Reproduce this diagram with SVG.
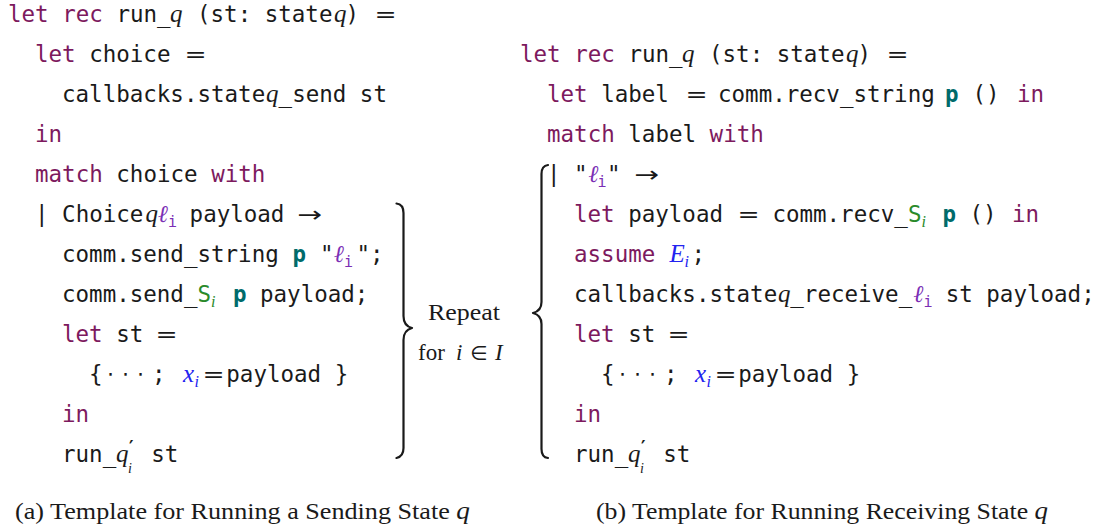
<svg xmlns="http://www.w3.org/2000/svg" width="1099" height="531" viewBox="0 0 1099 531">
<style>
  .m{font-family:"DejaVu Sans Mono",monospace;font-size:22.5px;fill:#1a1a1a}
  .k{fill:#7d1a5e}
  .b{font-weight:bold;fill:#006b6b}
  .mi{font-family:"Liberation Serif","DejaVu Serif",serif;font-style:italic;font-size:25px;fill:#1a1a1a}
  .ell{font-family:"DejaVu Serif",serif;font-style:italic;font-size:24px}
  .sb{font-size:16px}
  .ss{font-family:"DejaVu Sans Mono",monospace;font-size:15px}
  .lab{fill:#7b2fb5}
  .g{fill:#2a8a2a}
  .bl{fill:#2323f0}
  .op{font-family:"DejaVu Sans",sans-serif;font-size:22px;fill:#1a1a1a}
  .pr{font-family:"DejaVu Sans",sans-serif;font-size:17px;font-weight:bold;font-style:normal}
  .rm{font-family:"Liberation Serif",serif;font-size:23px;fill:#1a1a1a}
  .cap{font-family:"Liberation Serif",serif;font-size:24px;fill:#1a1a1a}
  .brace{fill:none;stroke:#1a1a1a;stroke-width:2.2;stroke-linecap:round;stroke-linejoin:round}
</style>

<!-- (a) sending state template -->
<g id="code-send">
  <text class="m" y="22"><tspan x="8" class="k">let rec</tspan><tspan x="116.4">run_</tspan><tspan x="170" class="mi">q</tspan><tspan x="197">(st: state</tspan><tspan x="334" class="mi">q</tspan><tspan x="345.5">)</tspan></text>
  <text class="op" transform="translate(374.4,22) scale(1.2,1)">=</text>

  <text class="m" y="62"><tspan x="35" class="k">let</tspan><tspan x="89.2">choice</tspan></text>
  <text class="op" transform="translate(184.4,62) scale(1.2,1)">=</text>

  <text class="m" y="102"><tspan x="62">callbacks.state</tspan><tspan x="266" class="mi">q</tspan><tspan x="278.6">_send st</tspan></text>

  <text class="m k" y="142" x="35">in</text>

  <text class="m" y="182"><tspan x="35" class="k">match</tspan><tspan x="116.3">choice</tspan><tspan x="211.2" class="k">with</tspan></text>

  <text class="m" y="222"><tspan x="35">| Choice</tspan><tspan x="145.5" class="mi">q</tspan><tspan x="158" class="ell lab">ℓ</tspan><tspan x="168" y="227" class="ss lab">i</tspan><tspan x="189.6" y="222">payload</tspan></text>
  <text class="op" transform="translate(297.6,222) scale(1.35,1)">→</text>

  <text class="m" y="262"><tspan x="62">comm.send_string</tspan><tspan x="292.4" class="b">p</tspan><tspan x="319.9">"</tspan><tspan x="334" class="ell lab">ℓ</tspan><tspan x="344" y="267" class="ss lab">i</tspan><tspan x="356.5" y="262">";</tspan></text>

  <text class="m" y="302"><tspan x="62">comm.send_</tspan><tspan x="197.5" class="g">S</tspan><tspan x="211" y="307" class="mi sb g">i</tspan><tspan x="233" y="302" class="b">p</tspan><tspan x="260">payload;</tspan></text>

  <text class="m" y="342"><tspan x="62" class="k">let</tspan><tspan x="116.2">st</tspan></text>
  <text class="op" transform="translate(155.4,342) scale(1.2,1)">=</text>

  <text class="m" y="382"><tspan x="89">{</tspan><tspan x="152">;</tspan><tspan x="226.3">payload</tspan><tspan x="334.8">}</tspan></text>
  <text class="op" y="382"><tspan x="107.2">⋅</tspan><tspan x="122.2">⋅</tspan><tspan x="137.2">⋅</tspan></text>
  <text class="mi bl" y="382"><tspan x="183">x</tspan><tspan x="194.5" y="387" class="sb">i</tspan></text>
  <text class="op" transform="translate(202.4,382) scale(1.2,1)">=</text>

  <text class="m k" y="422" x="62">in</text>

  <text class="m" y="462"><tspan x="62">run_</tspan><tspan x="116" class="mi">q</tspan><tspan x="129" y="453" class="pr">′</tspan><tspan x="128" y="473" class="mi" style="font-size:14px">i</tspan><tspan x="151.3" y="462">st</tspan></text>
</g>

<!-- repetition brace and its note -->
<g id="repeat-note">
  <path class="brace" d="M396.5 203.5 C401 204 403.5 207 403.5 213 L403.5 316 C403.5 323 406 326.5 412 328 C406 329.5 403.5 333 403.5 340 L403.5 448 C403.5 454 401 457 396.5 458"/>
  <text class="rm" x="428" y="320" textLength="72" lengthAdjust="spacingAndGlyphs">Repeat</text>
  <text class="rm" y="360"><tspan x="418">for</tspan><tspan x="456" class="mi" style="font-size:23px">i</tspan></text>
  <text class="op" x="470" y="360" style="font-size:20px">∈</text>
  <text class="mi" x="495" y="360" style="font-size:23px">I</text>
</g>

<!-- (b) receiving state template -->
<g id="code-receive">
  <text class="m" y="62"><tspan x="520" class="k">let rec</tspan><tspan x="628.4">run_</tspan><tspan x="682" class="mi">q</tspan><tspan x="709">(st: state</tspan><tspan x="846" class="mi">q</tspan><tspan x="857.5">)</tspan></text>
  <text class="op" transform="translate(886.4,62) scale(1.2,1)">=</text>

  <text class="m" y="102"><tspan x="547" class="k">let</tspan><tspan x="601.2">label</tspan><tspan x="718">comm.recv_string</tspan><tspan x="945" class="b">p</tspan><tspan x="972.5">()</tspan><tspan x="1017" class="k">in</tspan></text>
  <text class="op" transform="translate(685.4,102) scale(1.2,1)">=</text>

  <text class="m" y="142"><tspan x="547" class="k">match</tspan><tspan x="628.3">label</tspan><tspan x="709.6" class="k">with</tspan></text>

  <text class="m" y="182"><tspan x="547">| "</tspan><tspan x="588.5" class="ell lab">ℓ</tspan><tspan x="597.5" y="187" class="ss lab">i</tspan><tspan x="607" y="182">"</tspan></text>
  <text class="op" transform="translate(634.6,182) scale(1.35,1)">→</text>

  <text class="m" y="222"><tspan x="574" class="k">let</tspan><tspan x="628.2">payload</tspan><tspan x="772.4">comm.recv_</tspan><tspan x="908" class="g">S</tspan><tspan x="921.5" y="227" class="mi sb g">i</tspan><tspan x="942.5" y="222" class="b">p</tspan><tspan x="969.5">()</tspan><tspan x="1012" class="k">in</tspan></text>
  <text class="op" transform="translate(737.4,222) scale(1.2,1)">=</text>

  <text class="m" y="262"><tspan x="574" class="k">assume</tspan><tspan x="669.5" class="mi bl">E</tspan><tspan x="684.5" y="267" class="mi sb bl">i</tspan><tspan x="691.5" y="262">;</tspan></text>

  <text class="m" y="302"><tspan x="574">callbacks.state</tspan><tspan x="778" class="mi">q</tspan><tspan x="790.3">_receive_</tspan><tspan x="913.5" class="ell lab">ℓ</tspan><tspan x="923.5" y="307" class="ss lab">i</tspan><tspan x="945.7" y="302">st payload;</tspan></text>

  <text class="m" y="342"><tspan x="574" class="k">let</tspan><tspan x="628.2">st</tspan></text>
  <text class="op" transform="translate(667.4,342) scale(1.2,1)">=</text>

  <text class="m" y="382"><tspan x="601">{</tspan><tspan x="664">;</tspan><tspan x="738.3">payload</tspan><tspan x="846.8">}</tspan></text>
  <text class="op" y="382"><tspan x="619.2">⋅</tspan><tspan x="634.2">⋅</tspan><tspan x="649.2">⋅</tspan></text>
  <text class="mi bl" y="382"><tspan x="695">x</tspan><tspan x="706.5" y="387" class="sb">i</tspan></text>
  <text class="op" transform="translate(714.4,382) scale(1.2,1)">=</text>

  <text class="m k" y="422" x="574">in</text>

  <text class="m" y="462"><tspan x="574">run_</tspan><tspan x="628" class="mi">q</tspan><tspan x="641" y="453" class="pr">′</tspan><tspan x="640" y="473" class="mi" style="font-size:14px">i</tspan><tspan x="663.3" y="462">st</tspan></text>

  <path class="brace" d="M548 165 C543.5 165.5 541.5 168.5 541.5 174 L541.5 302 C541.5 308 539 311.5 533 313 C539 314.5 541.5 318 541.5 324 L541.5 449 C541.5 455 543.5 457.5 548 458"/>
</g>

<!-- sub-figure captions -->
<g id="captions">
  <text class="cap" x="15" y="519" textLength="455" lengthAdjust="spacingAndGlyphs">(a) Template for Running a Sending State <tspan class="mi">q</tspan></text>
  <text class="cap" x="596" y="519" textLength="452" lengthAdjust="spacingAndGlyphs">(b) Template for Running Receiving State <tspan class="mi">q</tspan></text>
</g>
</svg>
